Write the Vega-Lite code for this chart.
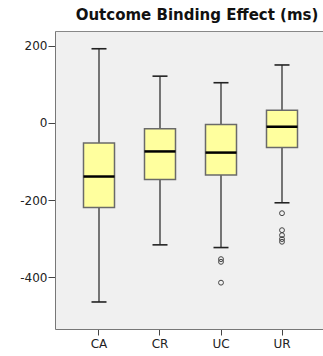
{
  "$schema": "https://vega.github.io/schema/vega-lite/v6.json",
  "width": 268,
  "height": 298,
  "autosize": "none",
  "padding": {"left": 55, "top": 31, "right": 0, "bottom": 27},
  "background": "white",
  "title": {"text": "Outcome Binding Effect (ms)", "font": "DejaVu Sans", "fontSize": 15, "fontWeight": "bold", "color": "#111", "anchor": "middle", "dx": 8, "baseline": "bottom", "offset": -7},
  "config": {
    "view": {"stroke": null, "fill": "#f0f0f0"},
    "axis": {"labelFont": "DejaVu Sans", "labelFontSize": 12, "labelColor": "#222", "domainColor": "#777", "tickColor": "#444", "grid": false, "title": null}
  },
  "resolve": {"axis": {"x": "independent"}},
  "datasets": {
    "boxes": [
      {"group": "CA", "lower": -464, "q1": -219, "median": -139, "q3": -52, "upper": 192},
      {"group": "CR", "lower": -316, "q1": -147, "median": -74, "q3": -15, "upper": 121},
      {"group": "UC", "lower": -323, "q1": -135, "median": -77, "q3": -4, "upper": 104},
      {"group": "UR", "lower": -207, "q1": -64, "median": -10, "q3": 33, "upper": 150}
    ],
    "outliers": [
      {"group": "UC", "value": -353},
      {"group": "UC", "value": -360},
      {"group": "UC", "value": -414},
      {"group": "UR", "value": -234},
      {"group": "UR", "value": -278},
      {"group": "UR", "value": -291},
      {"group": "UR", "value": -301},
      {"group": "UR", "value": -308}
    ]
  },
  "layer": [
    {
      "data": {"name": "boxes"},
      "mark": {"type": "rule", "color": "#222", "strokeWidth": 1.2},
      "encoding": {
        "x": {"field": "group", "type": "nominal", "sort": ["CA", "CR", "UC", "UR"],
          "scale": {"type": "band", "paddingInner": 0, "paddingOuter": 0.1967, "align": 0.5625},
          "axis": {"orient": "top", "labels": false, "ticks": false, "domain": true, "domainColor": "#888"}},
        "y": {"field": "lower", "type": "quantitative", "scale": {"domain": [-534, 238], "nice": false, "zero": false},
          "axis": {"values": [200, 0, -200, -400], "tickSize": 7, "labelPadding": 1, "labelExpr": "datum.value + ''"}},
        "y2": {"field": "upper"}
      }
    },
    {
      "data": {"name": "boxes"},
      "mark": {"type": "tick", "color": "#222", "opacity": 1, "size": 15, "thickness": 1.6},
      "encoding": {
        "x": {"field": "group", "type": "nominal", "sort": ["CA", "CR", "UC", "UR"],
          "axis": {"orient": "bottom", "labelAngle": 0, "tickSize": 6, "labelPadding": 3, "domainColor": "#777"}},
        "y": {"field": "lower", "type": "quantitative"}
      }
    },
    {
      "data": {"name": "boxes"},
      "mark": {"type": "tick", "color": "#222", "opacity": 1, "size": 15, "thickness": 1.6},
      "encoding": {
        "x": {"field": "group", "type": "nominal", "sort": ["CA", "CR", "UC", "UR"], "axis": null},
        "y": {"field": "upper", "type": "quantitative"}
      }
    },
    {
      "data": {"name": "boxes"},
      "mark": {"type": "bar", "size": 31, "fill": "#ffff9e", "opacity": 1, "stroke": "#6a6a6a", "strokeWidth": 1.5},
      "encoding": {
        "x": {"field": "group", "type": "nominal", "sort": ["CA", "CR", "UC", "UR"], "axis": null},
        "y": {"field": "q1", "type": "quantitative"}, "y2": {"field": "q3"}
      }
    },
    {
      "data": {"name": "boxes"},
      "mark": {"type": "tick", "color": "#000", "opacity": 1, "size": 31, "thickness": 2.5},
      "encoding": {
        "x": {"field": "group", "type": "nominal", "sort": ["CA", "CR", "UC", "UR"], "axis": null},
        "y": {"field": "median", "type": "quantitative"}
      }
    },
    {
      "data": {"name": "outliers"},
      "mark": {"type": "point", "shape": "circle", "filled": false, "opacity": 1, "size": 24, "stroke": "#444", "strokeWidth": 1},
      "encoding": {
        "x": {"field": "group", "type": "nominal", "sort": ["CA", "CR", "UC", "UR"], "axis": null},
        "y": {"field": "value", "type": "quantitative"}
      }
    }
  ]
}
